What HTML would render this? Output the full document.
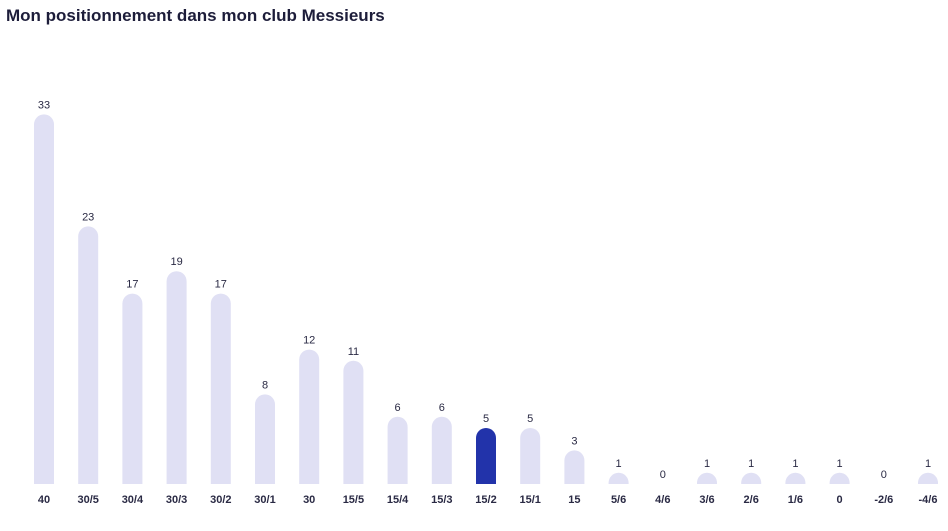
<!DOCTYPE html>
<html><head><meta charset="utf-8"><style>
body{margin:0;background:#fff;width:948px;height:531px;overflow:hidden;font-family:"Liberation Sans",sans-serif}
h1{position:absolute;left:6px;top:6px;margin:0;font-size:17px;font-weight:bold;color:#1d1d3a}
</style></head><body>
<h1>Mon positionnement dans mon club Messieurs</h1>
<svg id="c" width="948" height="531" style="position:absolute;left:0;top:0"></svg>
<script>
const categories=["40","30/5","30/4","30/3","30/2","30/1","30","15/5","15/4","15/3","15/2","15/1","15","5/6","4/6","3/6","2/6","1/6","0","-2/6","-4/6"];
const values=[33,23,17,19,17,8,12,11,6,6,5,5,3,1,0,1,1,1,1,0,1];
const highlight="15/2";
const svg=document.getElementById('c');const NS="http://www.w3.org/2000/svg";
const x0=44,step=44.2,base=484,scale=11.2,bw=20;
const xf=i=>x0+i*step, yf=v=>base-v*scale;
categories.forEach((c,i)=>{
 const v=values[i],cx=xf(i),top=yf(v),h=base-top;
 if(h>0){
  const r=Math.min(10,h);
  const p=document.createElementNS(NS,'path');
  p.setAttribute('d',`M${cx-bw/2},${base}V${top+r}A${bw/2},${r} 0 0 1 ${cx+bw/2},${top+r}V${base}Z`);
  p.setAttribute('fill',c===highlight?'#2233aa':'#e0e0f4');
  
  
  svg.appendChild(p);
 }
 const t=document.createElementNS(NS,'text');
 t.setAttribute('x',cx);t.setAttribute('y',top-6);t.setAttribute('text-anchor','middle');
 t.setAttribute('font-size','11');t.setAttribute('fill','#2a2a44');t.textContent=v;
 
 
 svg.appendChild(t);
 const l=document.createElementNS(NS,'text');
 l.setAttribute('x',cx);l.setAttribute('y',503);l.setAttribute('text-anchor','middle');
 l.setAttribute('font-size','11');l.setAttribute('font-weight','bold');l.setAttribute('fill','#2a2a44');l.textContent=c;
 
 
 svg.appendChild(l);
});
</script>
</body></html>
